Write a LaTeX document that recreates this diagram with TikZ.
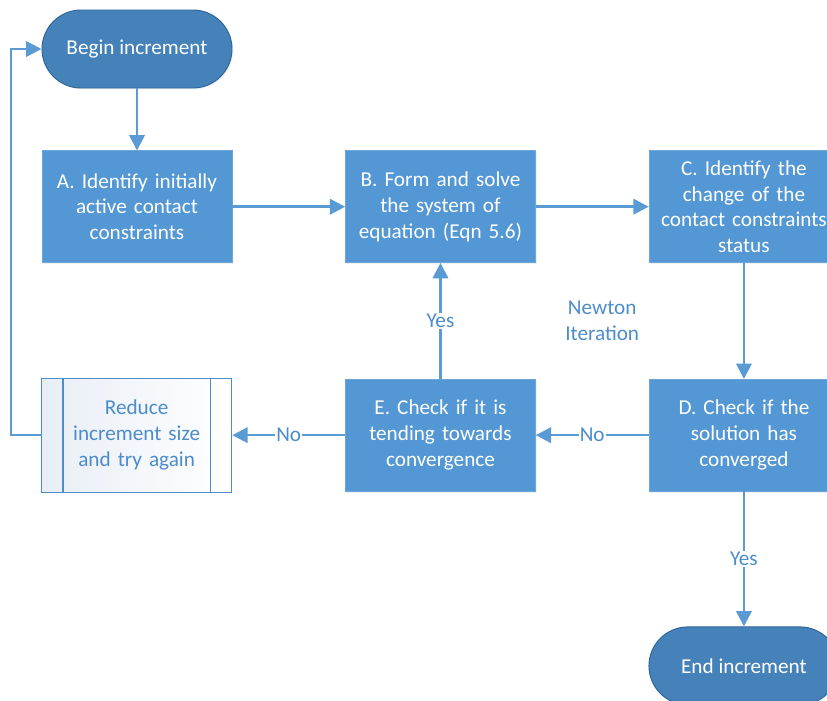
\documentclass[tikz,border=0pt]{standalone}
\usepackage{fontspec}
\setmainfont{Carlito}
\usetikzlibrary{arrows.meta,positioning,calc,shadows}

\definecolor{boxblue}{HTML}{5397D4}
\definecolor{termblue}{HTML}{4682BA}
\definecolor{termedge}{HTML}{2F6699}
\definecolor{lineblue}{HTML}{5A9AD5}
\definecolor{textblue}{HTML}{4C8CCB}
\definecolor{paleblue}{HTML}{E8EEF6}

\begin{document}
\begin{tikzpicture}[node distance=1.0cm,
    stepbox/.style={draw=boxblue!85!white, fill=boxblue, line width=0.4pt, text=white,
      minimum width=5.7cm, minimum height=3.36cm, inner xsep=0pt, text width=5.7cm, align=center,
      drop shadow={opacity=0.12, shadow xshift=0.4mm, shadow yshift=-0.4mm}},
    terminal/.style={draw=termedge, fill=termblue, line width=0.8pt, text=white,
      rounded corners=1.17cm, minimum width=5.7cm, minimum height=2.34cm, inner xsep=0pt,
      drop shadow={opacity=0.12, shadow xshift=0.4mm, shadow yshift=-0.4mm}},
    subbox/.style={draw=textblue, line width=1pt, left color=paleblue, right color=white,
      text=textblue, minimum width=5.7cm, minimum height=3.42cm, inner xsep=0pt,
      text width=5.7cm, align=center},
    flow/.style={-{Triangle[length=4.6mm, width=4.6mm]}, line width=2.2pt, color=lineblue},
    lbl/.style={fill=white, text=textblue, inner sep=1pt, anchor=center}]
  \path[use as bounding box, clip] (0,0) rectangle (24.81,-21);
  \fontsize{18.1pt}{22pt}\selectfont

  % terminals and process steps
  \node (begin) [terminal] at (4.11,-1.47) {Begin increment};
  \node (stepA) [stepbox, below=1.86cm of begin] {A. Identify initially\\active contact\\constraints};
  \node (stepB) [stepbox, right=3.39cm of stepA] {B. Form and solve\\the system of\\equation (Eqn 5.6)};
  \node (stepC) [stepbox, right=3.39cm of stepB] {C. Identify the\\change of the\\contact constraints\\status};
  \node (stepD) [stepbox, below=3.48cm of stepC] {D. Check if the\\solution has\\converged};
  \node (stepE) [stepbox, left=3.39cm of stepD] {E. Check if it is\\tending towards\\convergence};
  \node (reduce) [subbox, left=3.39cm of stepE] {Reduce\\increment size\\and try again};
  \node (finish) [terminal, below=4.05cm of stepD] {End increment};

  % side bars of the subprocess box
  \draw[textblue, line width=1pt] ([xshift=0.66cm]reduce.north west) -- ([xshift=0.66cm]reduce.south west);
  \draw[textblue, line width=1pt] ([xshift=-0.66cm]reduce.north east) -- ([xshift=-0.66cm]reduce.south east);

  \node (newton) [text=textblue, align=center] at ($(stepB.south east)!0.5!(stepD.north west)+(0.3,0)$) {Newton\\Iteration};

  % connectors
  \draw[flow] (begin) -- (stepA);
  \draw[flow] (stepA) -- (stepB);
  \draw[flow] (stepB) -- (stepC);
  \draw[flow] (stepC) -- (stepD);
  \draw[flow] (stepD) -- node[lbl, midway] {No} (stepE);
  \draw[flow] (stepE) -- node[lbl, midway] {No} (reduce);
  \draw[flow] (stepE) -- node[lbl, midway] {Yes} (stepB);
  \draw[flow] (stepD) -- node[lbl, midway] {Yes} (finish);
  \draw[flow] (reduce.west) -- ++(-0.9,0) |- (begin.west);
\end{tikzpicture}
\end{document}
